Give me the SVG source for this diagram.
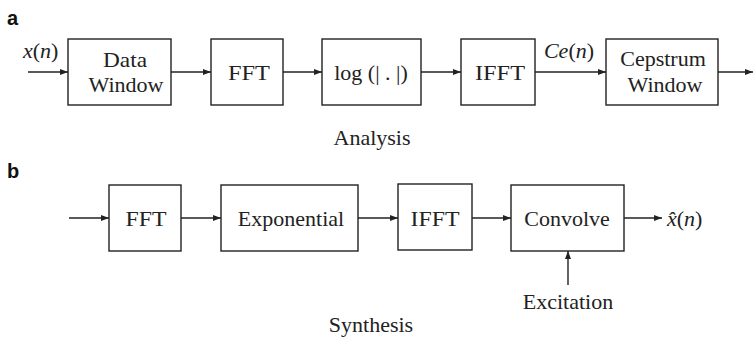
<svg xmlns="http://www.w3.org/2000/svg" width="753" height="338" viewBox="0 0 753 338">
<style>
  .box { fill: #fff; stroke: #222; stroke-width: 1.4; }
  .t { font-family: "Liberation Serif", "Times New Roman", serif; font-size: 22px; fill: #222; text-anchor: middle; }
  .tl { font-family: "Liberation Serif", "Times New Roman", serif; font-size: 22px; fill: #222; }
  .i { font-style: italic; }
  .lbl { font-family: "Liberation Sans", Arial, sans-serif; font-size: 20px; font-weight: bold; fill: #111; }
  .edge { stroke: #222; stroke-width: 1.4; fill: none; marker-end: url(#ah); }
</style>
<defs>
  <marker id="ah" markerWidth="8" markerHeight="6" refX="8" refY="3" orient="auto" markerUnits="userSpaceOnUse">
    <path d="M0,0 L8,3 L0,6 Z" fill="#222"/>
  </marker>
</defs>
<rect width="753" height="338" fill="#fff"/>

<text class="lbl" x="7" y="25">a</text>
<text class="lbl" x="7" y="178">b</text>

<g id="connectors">
  <line class="edge" x1="28" y1="72" x2="68" y2="72"/>
  <line class="edge" x1="171" y1="72" x2="211" y2="72"/>
  <line class="edge" x1="283" y1="72" x2="322" y2="72"/>
  <line class="edge" x1="421" y1="72" x2="461" y2="72"/>
  <line class="edge" x1="535" y1="72" x2="606" y2="72"/>
  <line class="edge" x1="718" y1="72" x2="753" y2="72"/>
  <line class="edge" x1="69" y1="218" x2="109" y2="218"/>
  <line class="edge" x1="181" y1="218" x2="221" y2="218"/>
  <line class="edge" x1="358" y1="218" x2="398" y2="218"/>
  <line class="edge" x1="472" y1="218" x2="511" y2="218"/>
  <line class="edge" x1="624" y1="218" x2="662" y2="218"/>
  <line class="edge" x1="568" y1="285" x2="568" y2="251"/>
</g>

<text class="tl" x="23" y="58"><tspan class="i">x</tspan>(<tspan class="i">n</tspan>)</text>
<text class="t" x="569" y="58"><tspan class="i">Ce</tspan>(<tspan class="i">n</tspan>)</text>

<g id="data-window">
  <rect class="box" x="68" y="39" width="103" height="66"/>
  <text class="t" x="125" y="67" textLength="44" lengthAdjust="spacingAndGlyphs">Data</text>
  <text class="t" x="126" y="92">Window</text>
</g>
<g id="fft-a">
  <rect class="box" x="211" y="39" width="72" height="66"/>
  <text class="t" x="249" y="80" textLength="42" lengthAdjust="spacingAndGlyphs">FFT</text>
</g>
<g id="log">
  <rect class="box" x="322" y="39" width="99" height="66"/>
  <text class="t" x="371" y="80">log (| . |)</text>
</g>
<g id="ifft-a">
  <rect class="box" x="461" y="39" width="74" height="66"/>
  <text class="t" x="500" y="80" textLength="50" lengthAdjust="spacingAndGlyphs">IFFT</text>
</g>
<g id="cepstrum-window">
  <rect class="box" x="606" y="39" width="112" height="66"/>
  <text class="t" x="663" y="66">Cepstrum</text>
  <text class="t" x="665" y="92">Window</text>
</g>
<text class="t" x="372" y="145">Analysis</text>

<g id="fft-b">
  <rect class="box" x="109" y="185" width="72" height="66"/>
  <text class="t" x="146" y="226" textLength="41" lengthAdjust="spacingAndGlyphs">FFT</text>
</g>
<g id="exponential">
  <rect class="box" x="221" y="185" width="137" height="66"/>
  <text class="t" x="291" y="226">Exponential</text>
</g>
<g id="ifft-b">
  <rect class="box" x="398" y="184" width="74" height="66"/>
  <text class="t" x="435" y="226" textLength="49" lengthAdjust="spacingAndGlyphs">IFFT</text>
</g>
<g id="convolve">
  <rect class="box" x="511" y="185" width="113" height="66"/>
  <text class="t" x="567" y="226">Convolve</text>
</g>
<text class="tl" x="667" y="226"><tspan class="i">x̂</tspan>(<tspan class="i">n</tspan>)</text>
<text class="t" x="568" y="309">Excitation</text>
<text class="t" x="371" y="332">Synthesis</text>
</svg>
